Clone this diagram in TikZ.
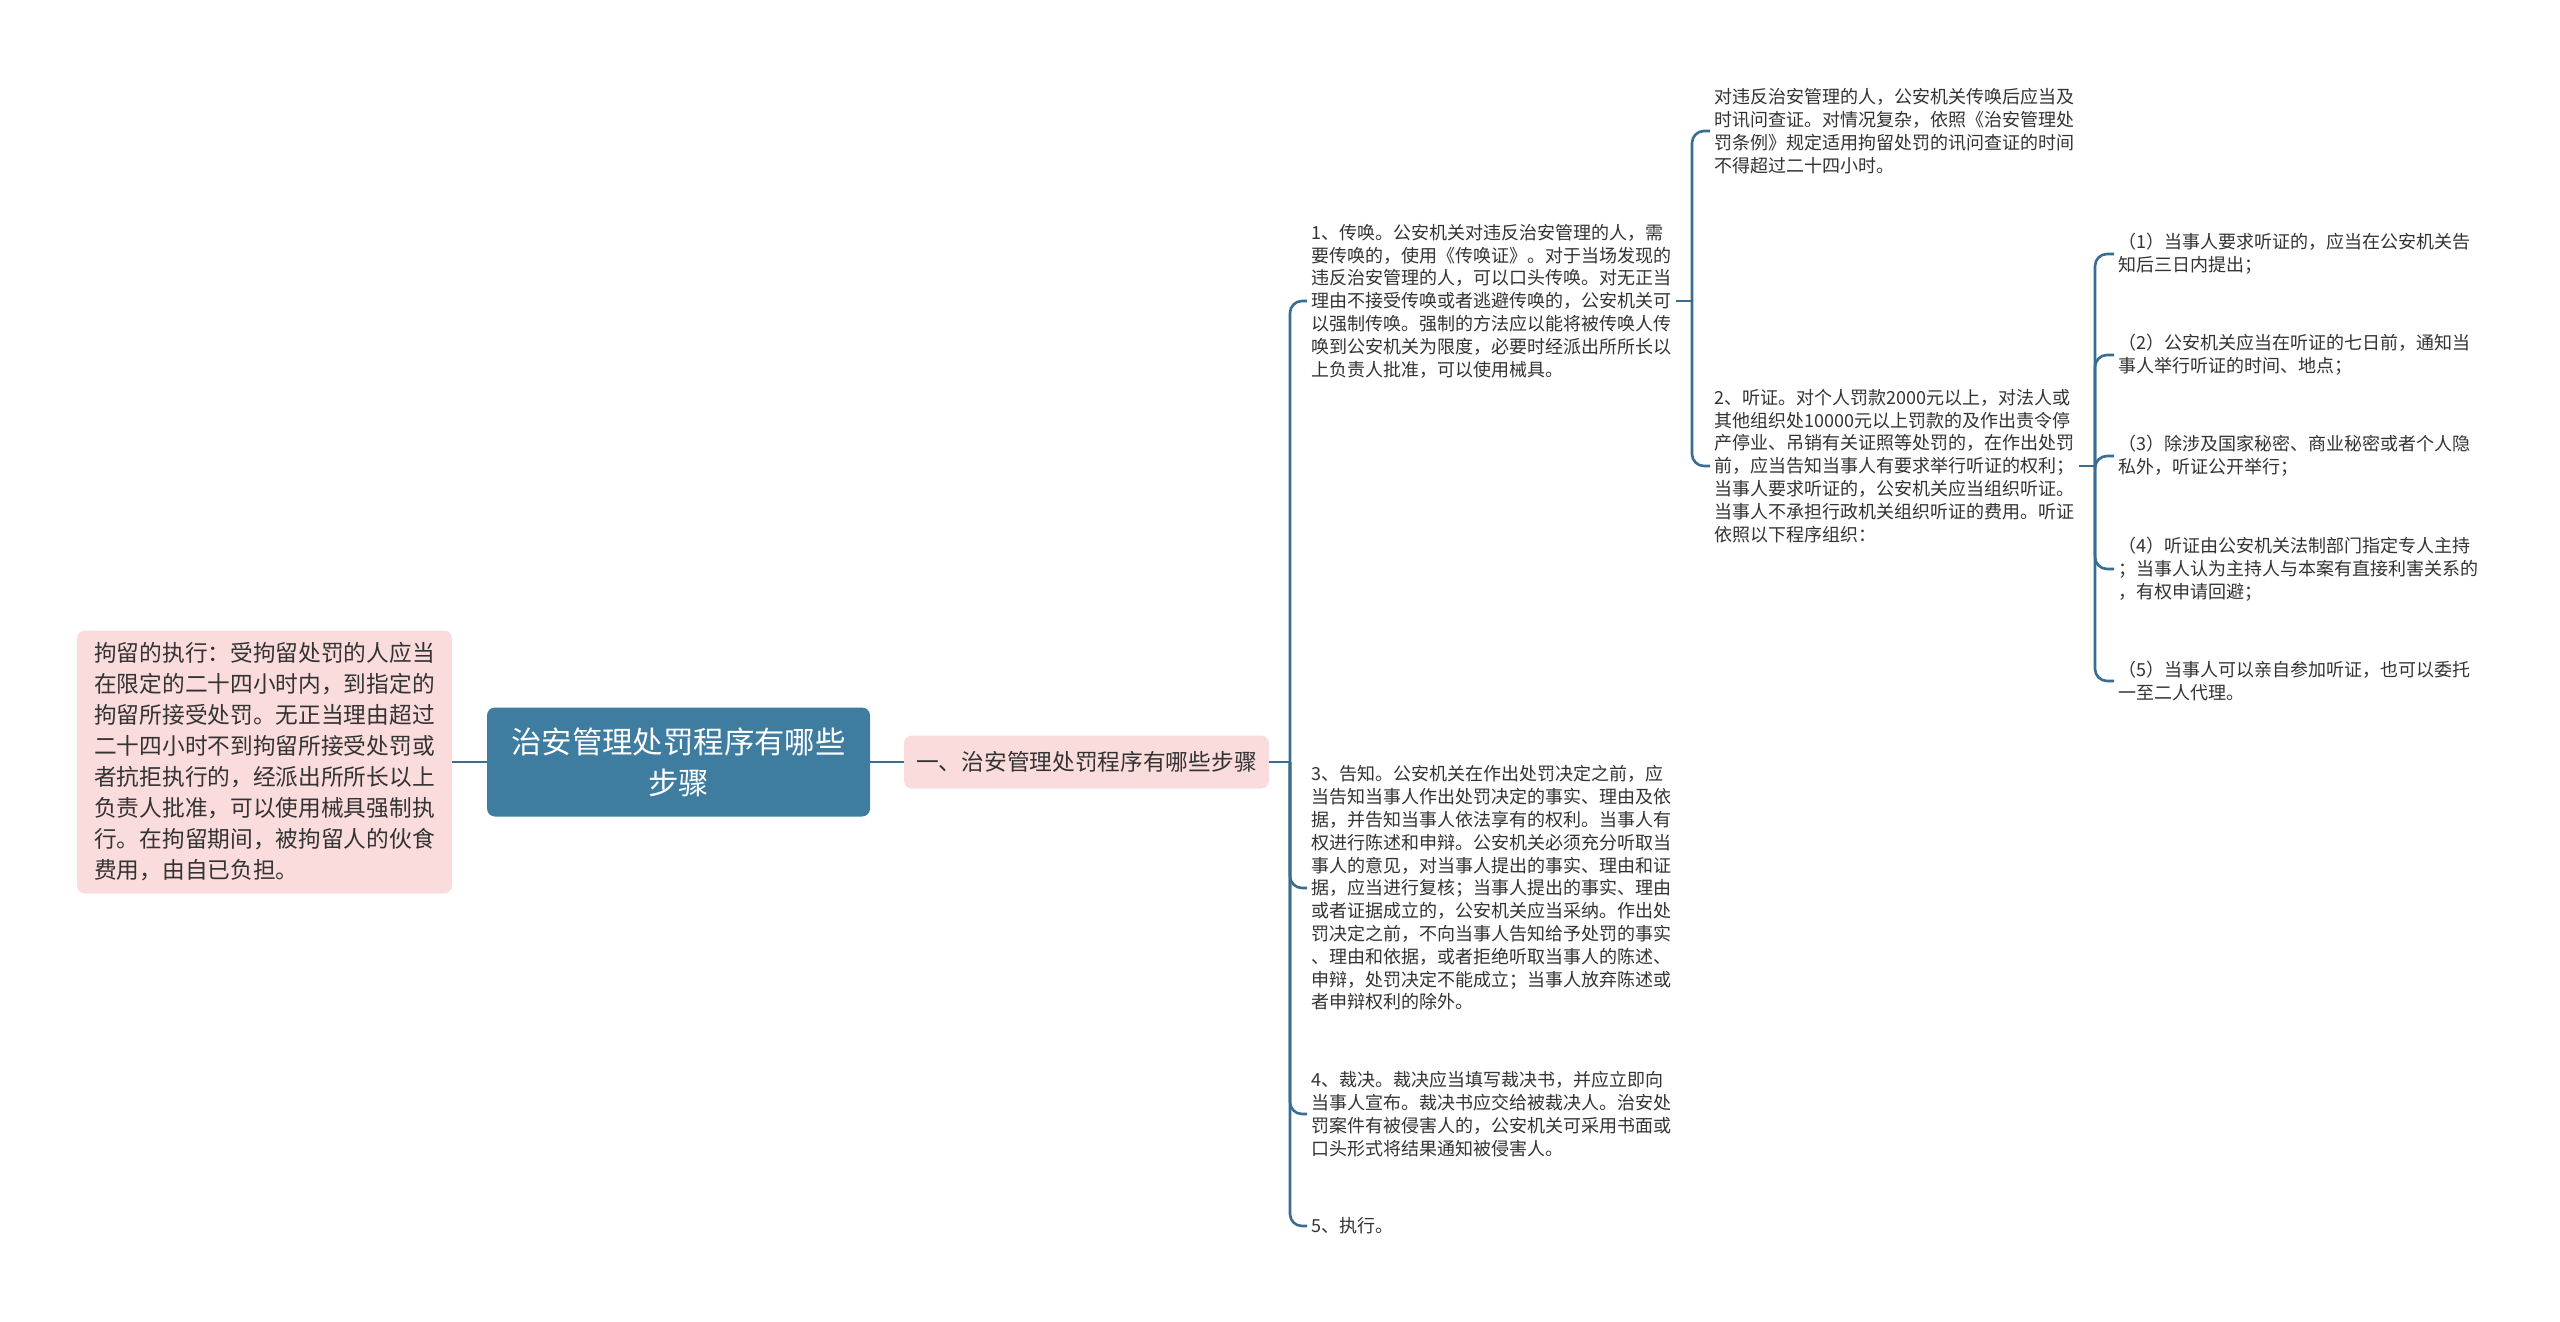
\documentclass[tikz,border=0pt]{standalone}
\usepackage{fontspec}
\setmainfont{Noto Sans CJK SC}
\usepackage{tikz}
\usepackage{xcolor}
\definecolor{rootblue}{HTML}{3E7CA0}
\definecolor{linkblue}{HTML}{3A6E91}
\definecolor{topicpink}{HTML}{FBDCDC}
\definecolor{textgray}{HTML}{333333}
\tikzset{
    branch-line/.style = {draw=linkblue, line width=1.3pt},
    bent-line/.style = {branch-line, rounded corners=6pt},
    root-box/.style = {fill=rootblue, text=white, rounded corners=4pt, align=center, minimum width=191.5pt, minimum height=54.5pt, font=\fontsize{15.2}{20.4}\selectfont},
    pink-box/.style = {fill=topicpink, text=textgray, rounded corners=4pt, inner xsep=6pt},
    leaf-text/.style = {text=textgray, align=left, inner sep=2pt, anchor=west, font=\fontsize{9}{11.4}\selectfont},
}

\begin{document}
\begin{tikzpicture}[x=0.5pt, y=-0.5pt]
\path[use as bounding box, fill=white] (0,0) rectangle (2560,1322);

\node [root-box] (root) at (678.5,762) {治安管理处罚程序有哪些\\步骤};
\node [pink-box, align=left, minimum width=187.5pt, minimum height=131.5pt, font=\fontsize{11.35}{15.5}\selectfont] (hold) at (264.5,762) {拘留的执行：受拘留处罚的人应当\\
在限定的二十四小时内，到指定的\\
拘留所接受处罚。无正当理由超过\\
二十四小时不到拘留所接受处罚或\\
者抗拒执行的，经派出所所长以上\\
负责人批准，可以使用械具强制执\\
行。在拘留期间，被拘留人的伙食\\
费用，由自已负担。};
\node [pink-box, minimum width=182.5pt, minimum height=26.5pt, font=\fontsize{11.35}{14}\selectfont] (steps) at (1086.5,762) {一、治安管理处罚程序有哪些步骤};

\node [leaf-text] (summon) at (1307,301) {1、传唤。公安机关对违反治安管理的人，需\\
要传唤的，使用《传唤证》。对于当场发现的\\
违反治安管理的人，可以口头传唤。对无正当\\
理由不接受传唤或者逃避传唤的，公安机关可\\
以强制传唤。强制的方法应以能将被传唤人传\\
唤到公安机关为限度，必要时经派出所所长以\\
上负责人批准，可以使用械具。};
\node [leaf-text] (inform) at (1307,888) {3、告知。公安机关在作出处罚决定之前，应\\
当告知当事人作出处罚决定的事实、理由及依\\
据，并告知当事人依法享有的权利。当事人有\\
权进行陈述和申辩。公安机关必须充分听取当\\
事人的意见，对当事人提出的事实、理由和证\\
据，应当进行复核；当事人提出的事实、理由\\
或者证据成立的，公安机关应当采纳。作出处\\
罚决定之前，不向当事人告知给予处罚的事实\\
、理由和依据，或者拒绝听取当事人的陈述、\\
申辩，处罚决定不能成立；当事人放弃陈述或\\
者申辩权利的除外。};
\node [leaf-text] (ruling) at (1307,1114) {4、裁决。裁决应当填写裁决书，并应立即向\\
当事人宣布。裁决书应交给被裁决人。治安处\\
罚案件有被侵害人的，公安机关可采用书面或\\
口头形式将结果通知被侵害人。};
\node [leaf-text] (execute) at (1307,1226) {5、执行。};

\node [leaf-text] (inquiry) at (1710,131) {对违反治安管理的人，公安机关传唤后应当及\\
时讯问查证。对情况复杂，依照《治安管理处\\
罚条例》规定适用拘留处罚的讯问查证的时间\\
不得超过二十四小时。};
\node [leaf-text] (hearing) at (1710,466) {2、听证。对个人罚款2000元以上，对法人或\\
其他组织处10000元以上罚款的及作出责令停\\
产停业、吊销有关证照等处罚的，在作出处罚\\
前，应当告知当事人有要求举行听证的权利；\\
当事人要求听证的，公安机关应当组织听证。\\
当事人不承担行政机关组织听证的费用。听证\\
依照以下程序组织：};

\node [leaf-text] (hear-a) at (2114,254) {（1）当事人要求听证的，应当在公安机关告\\知后三日内提出；};
\node [leaf-text] (hear-b) at (2114,355) {（2）公安机关应当在听证的七日前，通知当\\事人举行听证的时间、地点；};
\node [leaf-text] (hear-c) at (2114,456) {（3）除涉及国家秘密、商业秘密或者个人隐\\私外，听证公开举行；};
\node [leaf-text] (hear-d) at (2114,569) {（4）听证由公安机关法制部门指定专人主持\\；当事人认为主持人与本案有直接利害关系的\\，有权申请回避；};
\node [leaf-text] (hear-e) at (2114,681) {（5）当事人可以亲自参加听证，也可以委托\\一至二人代理。};

\draw [branch-line] (hold.east) -- (root.west);
\draw [branch-line] (root.east) -- (steps.west);

\draw [branch-line] (steps.east) -- (1290,762) coordinate (fork-a);
\foreach \leaf in {summon, inform, ruling, execute}
    \draw [bent-line] (fork-a) |- (\leaf.west);

\draw [branch-line] (summon.east) -- (1692,301) coordinate (fork-b);
\foreach \leaf in {inquiry, hearing}
    \draw [bent-line] (fork-b) |- (\leaf.west);

\draw [branch-line] (hearing.east) -- (2095,466) coordinate (fork-c);
\foreach \leaf in {hear-a, hear-b, hear-c, hear-d, hear-e}
    \draw [bent-line] (fork-c) |- (\leaf.west);
\end{tikzpicture}
\end{document}
